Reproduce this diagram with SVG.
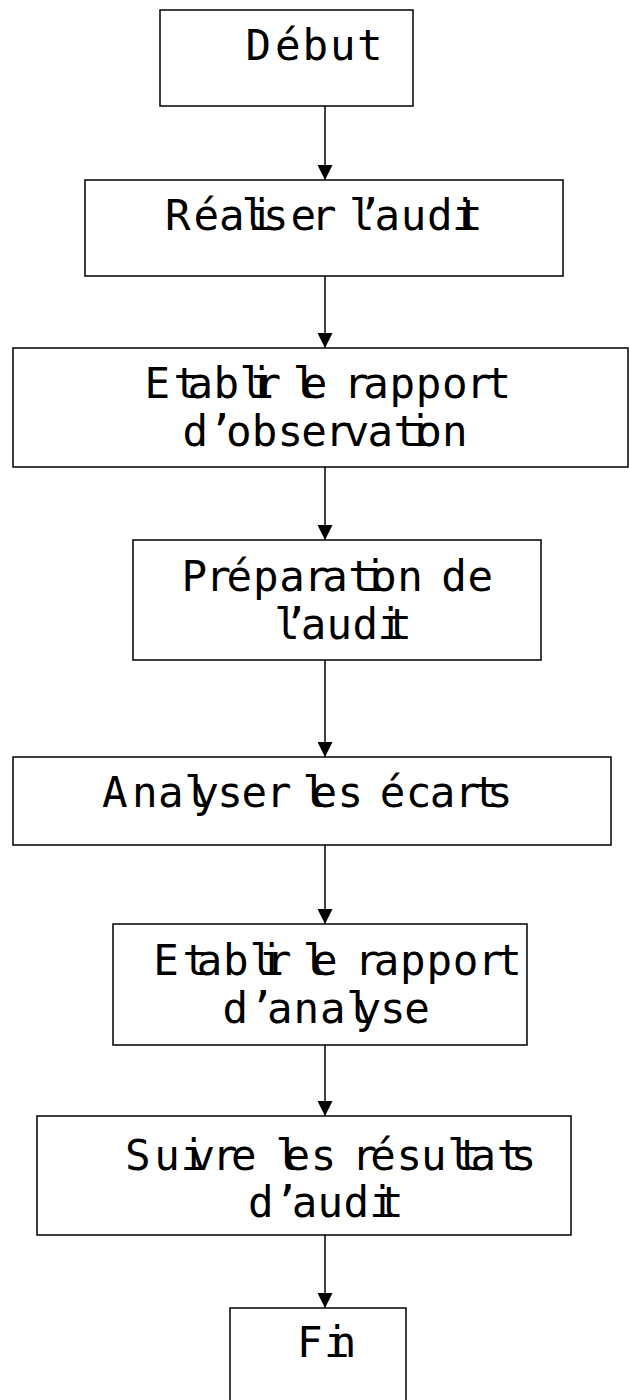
<svg xmlns="http://www.w3.org/2000/svg" width="629" height="1400" viewBox="0 0 629 1400">
  <style>
    .box { fill: #ffffff; stroke: #000000; stroke-width: 1.5; }
    .lbl { font-family: "DejaVu Sans Mono", "Liberation Mono", monospace; font-size: 42.5px; fill: #000000; }
    .edge { stroke: #000000; stroke-width: 1.5; fill: none; marker-end: url(#arrow); }
  </style>
  <defs>
    <marker id="arrow" viewBox="0 0 15 15" refX="15" refY="7.5" markerWidth="15" markerHeight="15" markerUnits="userSpaceOnUse" orient="auto">
      <path d="M0,0 L15,7.5 L0,15 z" fill="#000000"/>
    </marker>
  </defs>
  <rect width="629" height="1400" fill="#ffffff"/>

  <!-- flow connectors -->
  <g id="connectors">
    <line class="edge" x1="325" y1="106" x2="325" y2="180"/>
    <line class="edge" x1="325" y1="276" x2="325" y2="348"/>
    <line class="edge" x1="325" y1="467" x2="325" y2="540"/>
    <line class="edge" x1="325" y1="660" x2="325" y2="757"/>
    <line class="edge" x1="325" y1="845" x2="325" y2="924"/>
    <line class="edge" x1="325" y1="1045" x2="325" y2="1116"/>
    <line class="edge" x1="325" y1="1235" x2="325" y2="1308"/>
  </g>

  <g id="debut">
    <rect class="box" x="160" y="10" width="253" height="96"/>
    <text class="lbl" y="59.5" x="245.5 275 302.5 330 357">Début</text>
  </g>

  <g id="realiser">
    <rect class="box" x="85" y="180" width="478" height="96"/>
    <text class="lbl" y="230" x="165 193.5 219 241.5 248.5 263 290.5 311 330 349 357 374.5 400.8 427 452 457">Réaliser l’audit</text>
  </g>

  <g id="rapport-observation">
    <rect class="box" x="13" y="348" width="615" height="119"/>
    <text class="lbl" y="398" x="144.6 173.4 187.4 213.4 239.5 248.5 255.5 275 292.8 301.8 328 343.5 363.3 389.5 415.8 442 466 485.5">Etablir le rapport</text>
    <text class="lbl" y="446" x="182.5 208 226 251.7 277.4 301.2 325 343.8 367.6 393.4 407.3 416.2 442">d’observation</text>
  </g>

  <g id="preparation">
    <rect class="box" x="133" y="540" width="408" height="120"/>
    <text class="lbl" y="591" x="181.6 205.5 226.5 253 279.3 303.5 322.2 348.2 362.2 371.2 397.2 420 441.3 467.5">Préparation de</text>
    <text class="lbl" y="639" x="274.3 283.1 300.8 326.4 352.5 377.4 386.3">l’audit</text>
  </g>

  <g id="analyser">
    <rect class="box" x="13" y="757" width="598" height="88"/>
    <text class="lbl" y="807" x="102 132.1 158.1 184.2 193.2 217.3 241.4 266 285 302.5 311.5 337.6 360 379.7 405.8 429.8 454.5 472.9 487">Analyser les écarts</text>
  </g>

  <g id="rapport-analyse">
    <rect class="box" x="113" y="924" width="414" height="121"/>
    <text class="lbl" y="975" x="153.3 182.6 196.8 223 249.4 258.4 266 285 302.8 311.9 335 354.5 373.7 400 426.4 452.7 477.5 496.3">Etablir le rapport</text>
    <text class="lbl" y="1023" x="222.5 248.9 267.1 293.5 319.9 346.3 355.5 379.9 404.2">d’analyse</text>
  </g>

  <g id="suivre">
    <rect class="box" x="37" y="1116" width="534" height="119"/>
    <text class="lbl" y="1170" x="124.9 154.2 180.5 189.6 212 231 255 275.4 284.5 310.8 333 351.5 370.3 396.6 420.9 447.2 456.2 470.4 496.7 510.7">Suivre les résultats</text>
    <text class="lbl" y="1217" x="248 273.8 291.7 317.6 343.5 369.3 378">d’audit</text>
  </g>

  <g id="fin">
    <rect class="box" x="230" y="1308" width="176" height="110"/>
    <text class="lbl" y="1357" x="297 324 330.7">Fin</text>
  </g>
</svg>
